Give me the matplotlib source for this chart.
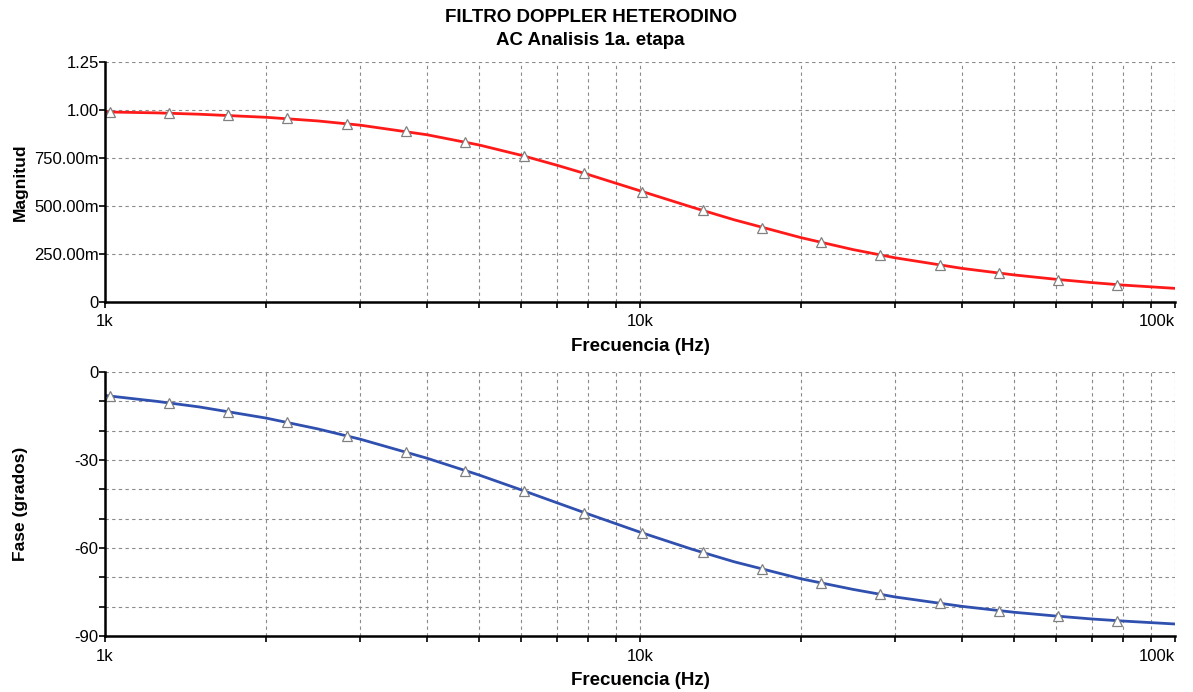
import numpy as np
import matplotlib.pyplot as plt
from matplotlib.ticker import FixedLocator, NullFormatter

plt.rcParams['font.family'] = ['Liberation Sans', 'DejaVu Sans']

# curva
f_line = [1000, 1250, 1500, 2000, 2500, 3000, 4000, 5000, 6000, 7000, 8000,
          10000, 12500, 15000, 20000, 25000, 30000, 40000, 50000, 60000,
          70000, 80000, 100000]
mag_line = [0.990, 0.985, 0.978, 0.962, 0.943, 0.921, 0.871, 0.818, 0.764,
            0.712, 0.664, 0.579, 0.494, 0.428, 0.335, 0.273, 0.230, 0.175,
            0.141, 0.118, 0.101, 0.088, 0.071]
fase_line = [-8.0, -10.0, -11.9, -15.7, -19.4, -22.9, -29.4, -35.1, -40.2,
             -44.6, -48.4, -54.6, -60.4, -64.7, -70.5, -74.1, -76.7, -79.9,
             -81.9, -83.2, -84.2, -84.9, -85.9]

# marcadores (triangulos)
f_mark = [1020, 1320, 1700, 2190, 2830, 3650, 4710, 6080, 7850, 10100,
          13100, 16900, 21800, 28100, 36300, 46800, 60400, 78000]
mag_mark = [0.990, 0.983, 0.973, 0.956, 0.929, 0.889, 0.833, 0.760, 0.671,
            0.575, 0.477, 0.387, 0.310, 0.245, 0.192, 0.150, 0.117, 0.091]
fase_mark = [-8.2, -10.5, -13.5, -17.1, -21.7, -27.2, -33.6, -40.6, -47.9,
             -54.9, -61.5, -67.2, -72.0, -75.8, -78.9, -81.4, -83.3, -84.8]

mag_ticks = [0, 0.25, 0.5, 0.75, 1.0, 1.25]
mag_labels = ['0', '250.00m', '500.00m', '750.00m', '1.00', '1.25']
fase_ticks = [-90, -60, -30, 0]
fase_labels = ['-90', '-60', '-30', '0']
x_ticks = [1000, 10000, 100000]
x_labels = ['1k', '10k', '100k']

fig = plt.figure(figsize=(11.93, 6.92), dpi=100)
ax1 = fig.add_axes([0.088, 0.5636, 0.897, 0.3468])
ax2 = fig.add_axes([0.088, 0.0809, 0.897, 0.3815])


def estilo(ax):
    ax.set_xscale('log')
    ax.set_xlim(1000, 100000)
    ax.xaxis.set_major_locator(FixedLocator(x_ticks))
    ax.set_xticklabels(x_labels)
    ax.xaxis.set_minor_locator(FixedLocator(
        [m * 10**d for d in (3, 4) for m in range(2, 10)]))
    ax.xaxis.set_minor_formatter(NullFormatter())
    for s in ('top', 'right'):
        ax.spines[s].set_visible(False)
    for s in ('left', 'bottom'):
        ax.spines[s].set_linewidth(1.8)
        ax.spines[s].set_color('black')
    ax.grid(True, which='both', color='#8a8a8a', linestyle=(0, (3, 3)),
            linewidth=0.8)
    ax.tick_params(which='both', direction='out', length=4, width=1.2,
                   labelsize=12, pad=0.5)
    ax.tick_params(axis='x', which='both', pad=5)
    labs = ax.get_xticklabels()
    labs[-1].set_ha('right')
    ax.set_xlabel('Frecuencia (Hz)', fontsize=13.5, fontweight='bold',
                  labelpad=6)


ax1.plot(f_line, mag_line, color='#ff1a1a', linewidth=2)
ax1.plot(f_mark, mag_mark, linestyle='none', marker='^', markersize=6.5,
         markerfacecolor='white', markeredgecolor='#808080',
         markeredgewidth=0.9)
estilo(ax1)
ax1.set_ylim(0, 1.25)
ax1.set_yticks(mag_ticks)
ax1.set_yticklabels(mag_labels)
ax1.set_ylabel('Magnitud', fontsize=12.5, fontweight='bold')
ax1.yaxis.set_label_coords(-0.072, 0.5)

ax2.plot(f_line, fase_line, color='#3050b0', linewidth=2)
ax2.plot(f_mark, fase_mark, linestyle='none', marker='^', markersize=6.5,
         markerfacecolor='white', markeredgecolor='#808080',
         markeredgewidth=0.9)
estilo(ax2)
ax2.set_ylim(-90, 0)
ax2.set_yticks(fase_ticks)
ax2.set_yticklabels(fase_labels)
ax2.yaxis.set_minor_locator(FixedLocator([-80, -70, -50, -40, -20, -10]))
ax2.set_ylabel('Fase (grados)', fontsize=12.5, fontweight='bold')
ax2.yaxis.set_label_coords(-0.072, 0.5)

fig.text(0.495, 0.974, 'FILTRO DOPPLER HETERODINO', ha='center', va='center',
         fontsize=13.5, fontweight='bold')
fig.text(0.495, 0.942, 'AC Analisis 1a. etapa', ha='center', va='center',
         fontsize=13.5, fontweight='bold')

fig.savefig('out.png', dpi=100)
